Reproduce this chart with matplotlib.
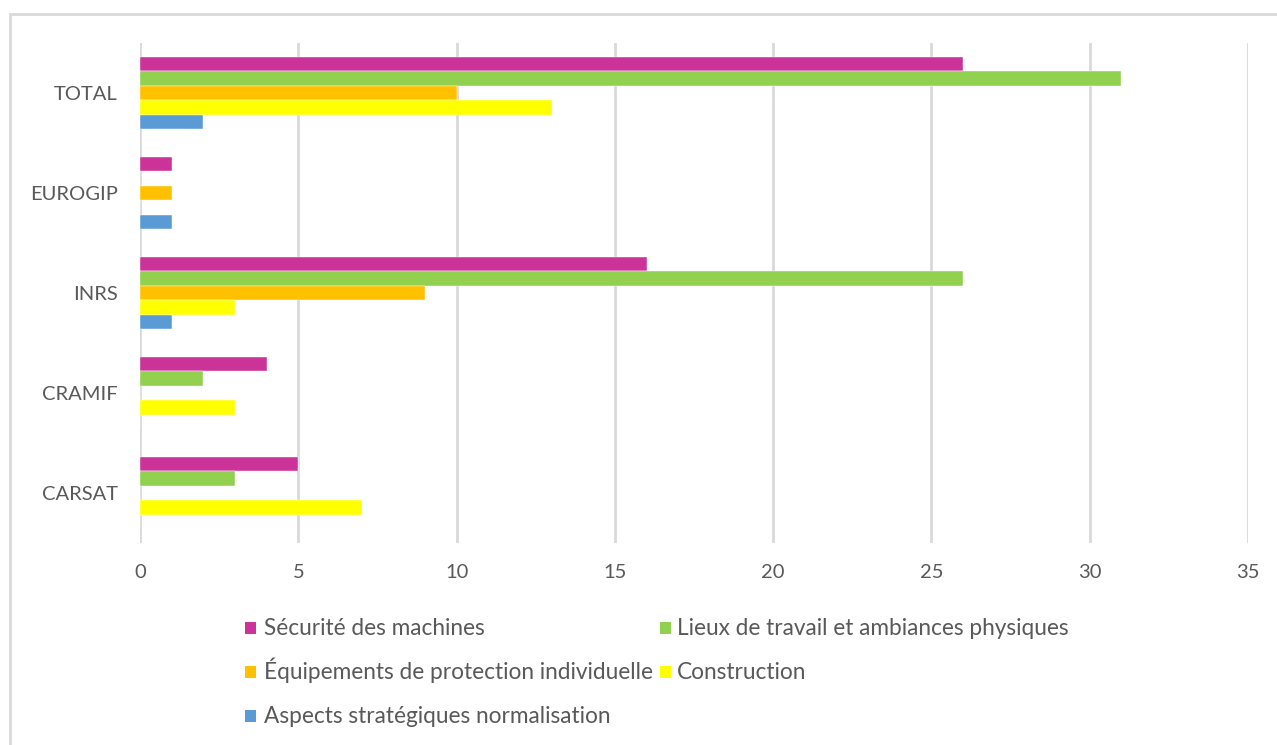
import matplotlib.pyplot as plt
from matplotlib.patches import Rectangle
import numpy as np

# Categories (bottom to top as drawn)
categories = ["CARSAT", "CRAMIF", "INRS", "EUROGIP", "TOTAL"]

# Series values, same order as categories
securite = [5, 4, 16, 1, 26]
lieux = [3, 2, 26, 0, 31]
epi = [0, 0, 9, 1, 10]
construction = [7, 3, 3, 0, 13]
aspects = [0, 0, 1, 1, 2]

series_names = ["Sécurité des machines",
                "Lieux de travail et ambiances physiques",
                "Équipements de protection individuelle",
                "Construction",
                "Aspects stratégiques normalisation"]
series_values = [securite, lieux, epi, construction, aspects]
colors = ["#CC3399", "#92D050", "#FFC000", "#FFFF00", "#5B9BD5"]

plt.rcParams['font.family'] = ['Lato', 'DejaVu Sans']
W, H = 1277, 745

fig = plt.figure(figsize=(W / 100, H / 100), dpi=100)

# light gray outer chart frame (right/bottom run off the image)
fig.patches.append(Rectangle((10 / W, -0.1), 1.2, 1 - 14 / H + 0.1,
                             transform=fig.transFigure, fill=False,
                             edgecolor="#D9D9D9", linewidth=2))

ax = fig.add_axes([140 / W, (H - 543) / H, 1108 / W, 500 / H])

y = np.arange(len(categories))
bar_h = 0.145
for i, (name, vals, c) in enumerate(zip(series_names, series_values, colors)):
    offset = (2 - i) * bar_h
    ax.barh(y + offset, vals, height=bar_h, color=c, label=name,
            edgecolor="white", linewidth=0.3, zorder=3)

ax.set_xlim(0, 35)
ax.set_ylim(-0.5, 4.5)
ax.set_xticks(range(0, 36, 5))
ax.set_yticks(y)
ax.set_yticklabels(categories)
ax.tick_params(axis="both", length=0, colors="#595959", labelsize=14.5)
ax.tick_params(axis="y", pad=16)
ax.tick_params(axis="x", pad=15)
ax.grid(axis="x", color="#D9D9D9", linewidth=2, zorder=0)
for s in ax.spines.values():
    s.set_visible(False)

# legend laid out row by row like Excel: (marker x, text x, row centre y) in pixels
legend_pos = [(245, 264, 628), (660, 677, 628),
              (245, 264, 672), (660, 677, 672),
              (245, 264, 716)]
msize = 12
for (mx, tx, ty), name, c in zip(legend_pos, series_names, colors):
    fig.patches.append(Rectangle((mx / W, 1 - (ty + msize / 2) / H), 11 / W, msize / H,
                                 transform=fig.transFigure, facecolor=c, edgecolor="none"))
    fig.text(tx / W, 1 - (ty + 7) / H, name, ha="left", va="baseline",
             fontsize=16.3, color="#595959")

plt.savefig("out.png", dpi=100)
